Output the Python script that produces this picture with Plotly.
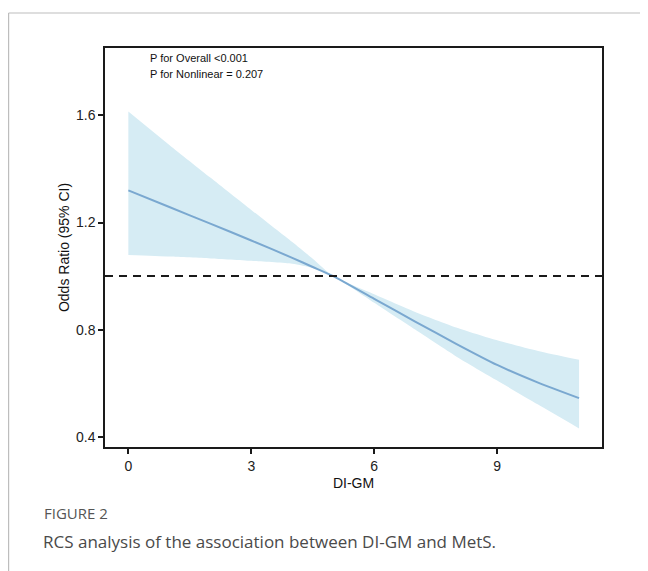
import plotly.graph_objects as go

# Data
di_gm = [0, 1, 2, 3, 4, 4.5, 5, 6, 7, 8, 9, 10, 11]
or_est = [1.32, 1.258, 1.196, 1.133, 1.068, 1.034, 1.0, 0.915, 0.83, 0.747, 0.668, 0.602, 0.544]
or_lower = [1.079, 1.073, 1.066, 1.057, 1.046, 1.03, 1.0, 0.90, 0.80, 0.70, 0.61, 0.52, 0.431]
or_upper = [1.615, 1.49, 1.368, 1.247, 1.127, 1.065, 1.0, 0.932, 0.866, 0.808, 0.76, 0.72, 0.687]
x_ticks = [0, 3, 6, 9]
y_ticks = [0.4, 0.8, 1.2, 1.6]
ref_or = 1.0
annot_lines = ["P for Overall <0.001", "P for Nonlinear = 0.207"]
caption_label = "FIGURE 2"
caption_text = "RCS analysis of the association between DI-GM and MetS."

OFF = 8  # page body margin
W, H = 648 - OFF, 571 - OFF
ml, mt = 105 - OFF, 48 - OFF
mr = W - (602 - OFF)
mb = H - (447 - OFF)
pw, ph = W - ml - mr, H - mt - mb


def px_x(p):
    return (p - OFF - ml) / pw


def px_y(p):
    return 1 - (p - OFF - mt) / ph


fig = go.Figure()
fig.add_trace(go.Scatter(x=di_gm, y=or_lower, mode="lines",
                         line=dict(width=0, shape="spline", smoothing=0.6),
                         hoverinfo="skip", showlegend=False))
fig.add_trace(go.Scatter(x=di_gm, y=or_upper, mode="lines", fill="tonexty",
                         line=dict(width=0, shape="spline", smoothing=0.6),
                         fillcolor="rgb(214,236,244)", hoverinfo="skip", showlegend=False))
fig.add_trace(go.Scatter(x=di_gm, y=or_est, mode="lines",
                         line=dict(color="rgb(122,168,208)", width=2, shape="spline", smoothing=0.6),
                         showlegend=False))

fig.add_shape(type="line", xref="paper", yref="y", x0=0, x1=1, y0=ref_or, y1=ref_or,
              line=dict(color="#1a1a1a", width=2, dash="8px,6px"))

# outer card border (top and left)
border = dict(color="#bdbdbd", width=1.2)
fig.add_shape(type="line", xref="paper", yref="paper", x0=px_x(8.6), x1=px_x(660),
              y0=px_y(13), y1=px_y(13), line=border)
fig.add_shape(type="line", xref="paper", yref="paper", x0=px_x(8.6), x1=px_x(8.6),
              y0=px_y(13), y1=px_y(580), line=border)

font_plot = "Liberation Sans, Arial, sans-serif"
for i, t in enumerate(annot_lines):
    fig.add_annotation(xref="paper", yref="paper", x=px_x(148), y=px_y(58 + 16 * i),
                       text=t, showarrow=False, xanchor="left", yanchor="middle",
                       font=dict(family=font_plot, size=11, color="#111"))

fig.add_annotation(xref="paper", yref="paper", x=px_x(42), y=px_y(513), text=caption_label,
                   showarrow=False, xanchor="left", yanchor="middle",
                   font=dict(family="Open Sans, sans-serif", size=15, color="#555"))
fig.add_annotation(xref="paper", yref="paper", x=px_x(41), y=px_y(541), text=caption_text,
                   showarrow=False, xanchor="left", yanchor="middle",
                   font=dict(family="Open Sans, sans-serif", size=17, color="#4a4a4a"))

axis_common = dict(showgrid=False, zeroline=False, showline=True, linecolor="#1a1a1a",
                   linewidth=1.5, mirror=True, ticks="outside", ticklen=5, tickwidth=1.5,
                   tickcolor="#1a1a1a", tickfont=dict(family=font_plot, size=14, color="#222"))
fig.update_xaxes(range=[-0.57, 11.56], tickvals=x_ticks,
                 title=dict(text="DI-GM", font=dict(family=font_plot, size=14, color="#111"), standoff=6),
                 **axis_common)
fig.update_yaxes(range=[0.3615, 1.852], tickvals=y_ticks, tickformat=".1f",
                 title=dict(text="Odds Ratio (95% CI)", font=dict(family=font_plot, size=14, color="#111"), standoff=3),
                 **axis_common)

fig.update_layout(width=W, height=H, margin=dict(l=ml, r=mr, t=mt, b=mb),
                  plot_bgcolor="white", paper_bgcolor="white", showlegend=False)
fig.write_html("out.html")
